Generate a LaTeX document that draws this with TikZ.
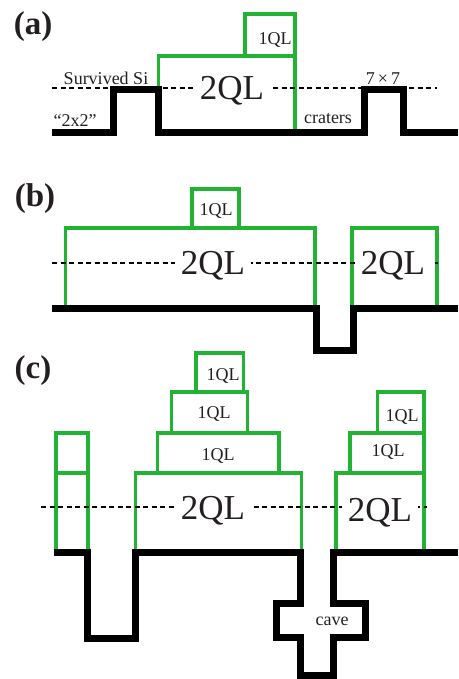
\documentclass[tikz,border=0pt]{standalone}
\usepackage{fontspec}
\setmainfont{Liberation Serif}
\definecolor{qlgreen}{RGB}{34,178,52}
\definecolor{txt}{RGB}{35,31,32}
\begin{document}
\begin{tikzpicture}[x=1pt,y=-1pt,
  surf/.style={line width=7pt, line join=miter, line cap=butt},
  ql/.style={draw=qlgreen, line width=3.5pt, line join=miter},
  dline/.style={line width=2pt, dash pattern=on 5pt off 3.5pt},
  big/.style={font=\fontsize{35}{35}\selectfont, text=txt, fill=white, inner xsep=6pt, inner ysep=0pt, anchor=base},
  small/.style={font=\fontsize{18}{18}\selectfont, text=txt, inner sep=0pt, anchor=base},
  lab/.style={font=\bfseries\fontsize{33}{33}\selectfont, text=txt, inner sep=0pt, anchor=base}]
\useasboundingbox (0,0) rectangle (458,679);

% ---------- (a) ----------
\node[lab] (la) at (33,35) {(a)};
\draw[ql] (158.3,133) -- (158.3,56) -- (295,56) -- (295,133);
\draw[ql] (245,56) -- (245,14) -- (295,14) -- (295,56);
\draw[dline] (52,88) -- (437,88);
\draw[surf] (52,133) -- (113.7,133) -- (113.7,90) -- (158.7,90) -- (158.7,133)
  -- (364,133) -- (364,90) -- (403,90) -- (403,133) -- (458,133);
\node[big] (a2ql) at (232,100) {2QL};
\node[small] (a1ql) at (275,45) {1QL};
\node[small] (asi) at (106,85) {Survived Si};
\node[small] (a77) at (383,85) {7\,×\,7};
\node[small] (a22) at (75,126.5) {“2x2”};
\node[small] (acr) at (328,124) {craters};

% ---------- (b) ----------
\node[lab] (lb) at (35,206.7) {(b)};
\draw[ql] (65.7,308) -- (65.7,228) -- (315,228) -- (315,308);
\draw[ql] (192,228) -- (192,189) -- (239,189) -- (239,228);
\draw[ql] (352,308) -- (352,228) -- (437,228) -- (437,308);
\draw[dline] (52,263) -- (438,263);
\draw[surf] (52,308) -- (316,308) -- (316,350) -- (353,350) -- (353,308) -- (458,308);
\node[big] (b2qla) at (213,274) {2QL};
\node[big] (b2qlb) at (393,274) {2QL};
\node[small] (b1ql) at (216,215) {1QL};

% ---------- (c) ----------
\node[lab] (lc) at (33,378) {(c)};
\draw[ql] (56,552) -- (56,433) -- (88,433) -- (88,552);
\draw[ql] (56,473) -- (88,473);
\draw[ql] (135.7,552) -- (135.7,473) -- (301.7,473) -- (301.7,552);
\draw[ql] (157.7,473) -- (157.7,433) -- (279,433) -- (279,473);
\draw[ql] (171.7,433) -- (171.7,392) -- (247.3,392) -- (247.3,433);
\draw[ql] (196,392) -- (196,353) -- (243.3,353) -- (243.3,392);
\draw[ql] (336,552) -- (336,473) -- (424,473) -- (424,552);
\draw[ql] (350,473) -- (350,433) -- (424,433) -- (424,473);
\draw[ql] (377.7,433) -- (377.7,392) -- (424,392) -- (424,433);
\draw[dline] (41,507.3) -- (427,507.3);
\draw[surf] (54,552) -- (87.5,552) -- (87.5,638) -- (135.5,638) -- (135.5,552)
  -- (300.5,552) -- (300.5,603) -- (276,603) -- (276,637.5) -- (300.5,637.5)
  -- (300.5,675) -- (333,675) -- (333,637.5) -- (365,637.5) -- (365,603)
  -- (333,603) -- (333,552) -- (458,552);
\node[big] (c2qla) at (213,519.3) {2QL};
\node[big] (c2qlb) at (380,521.7) {2QL};
\node[small] (c1ql3) at (223,380) {1QL};
\node[small] (c1ql2) at (214,418.3) {1QL};
\node[small] (c1ql1) at (218,460.7) {1QL};
\node[small] (c1qlr2) at (402,421) {1QL};
\node[small] (c1qlr1) at (388,456.7) {1QL};
\node[small] (ccave) at (332,625) {cave};
\end{tikzpicture}
\end{document}
